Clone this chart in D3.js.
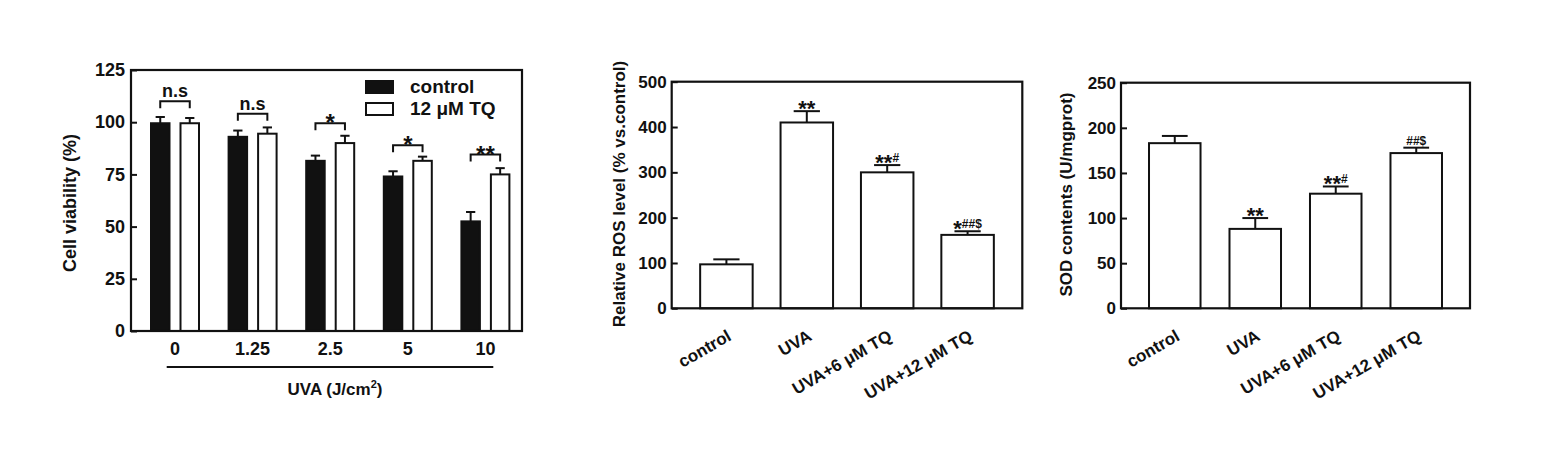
<!DOCTYPE html>
<html>
<head>
<meta charset="utf-8">
<script src="https://cdn.jsdelivr.net/npm/d3@7"></script>
<style>
  body { margin: 0; background: #fff; }
  svg text { font-family: "Liberation Sans", Arial, sans-serif; font-weight: bold; fill: #111; }
</style>
</head>
<body>
<svg id="fig" width="1548" height="464"></svg>
<script>
// ---- data: cell viability vs UVA dose
const doseLabels = ["0", "1.25", "2.5", "5", "10"];
const viabilitySeries = ["control", "12 μM TQ"];
const viabilityControl = [99.5, 93, 81.5, 74, 52.5];
const viabilityControlErr = [3, 3, 2.5, 2.5, 4.5];
const viabilityTQ = [99.5, 94.5, 90, 81.5, 75];
const viabilityTQErr = [2.5, 3, 3.5, 2, 3];
const viabilitySig = ["n.s", "n.s", "*", "*", "**"];
const viabilityBracket = [110, 104, 99.5, 89, 84.5];
const viabilityTicks = [0, 25, 50, 75, 100, 125];

// ---- data: ROS and SOD
const groupLabels = ["control", "UVA", "UVA+6 μM TQ", "UVA+12 μM TQ"];
const rosValues = [97, 410, 300, 162];
const rosErr = [11, 25, 16, 8];
const rosStars = ["", "**", "**", "*"];
const rosMarks = ["", "", "#", "##$"];
const rosTicks = [0, 100, 200, 300, 400, 500];

const sodValues = [183, 88, 127, 172];
const sodErr = [8, 12, 8, 6];
const sodStars = ["", "**", "**", ""];
const sodMarks = ["", "", "#", "##$"];
const sodTicks = [0, 50, 100, 150, 200, 250];

const svg = d3.select("#fig");
const ink = "#111";

function frame(g, left, right, top, bottom) {
    g.append("rect")
        .attr("x", left).attr("y", top)
        .attr("width", right - left).attr("height", bottom - top)
        .attr("fill", "none").attr("stroke", ink).attr("stroke-width", 2.2);
}

function yAxis(g, y, left, ticks, size, pad) {
    const ax = g.append("g")
        .attr("transform", `translate(${left},0)`)
        .call(d3.axisLeft(y).tickValues(ticks).tickSizeInner(-6).tickSizeOuter(0).tickPadding(pad));
    ax.select(".domain").remove();
    ax.selectAll(".tick line").attr("stroke", ink).attr("stroke-width", 2);
    ax.selectAll(".tick text").attr("font-size", size).attr("fill", ink);
    ax.attr("font-family", null).attr("font-size", null);
}

// Cell viability grouped bars
function drawViability() {
    const left = 131, right = 522, top = 70, bottom = 331;
    const g = svg.append("g");

    const y = d3.scaleLinear().domain([0, 125]).range([bottom, top]);
    const x0 = d3.scaleBand().domain(doseLabels).range([136.2, 524.2]);
    const x1 = d3.scaleBand().domain(viabilitySeries).range([14.8, 62.8]).paddingInner(0.373);
    const bw = x1.bandwidth();

    const rows = doseLabels.map((d, i) => ({
        dose: d,
        bars: [
            { s: viabilitySeries[0], v: viabilityControl[i], e: viabilityControlErr[i] },
            { s: viabilitySeries[1], v: viabilityTQ[i], e: viabilityTQErr[i] }
        ]
    }));

    const grp = g.selectAll("g.dose")
        .data(rows)
        .enter()
        .append("g")
        .attr("class", "dose")
        .attr("transform", d => `translate(${x0(d.dose)},0)`);

    // error bars (upper only)
    grp.selectAll("line.err")
        .data(d => d.bars)
        .enter()
        .append("line")
        .attr("x1", d => x1(d.s) + bw / 2).attr("x2", d => x1(d.s) + bw / 2)
        .attr("y1", d => y(d.v)).attr("y2", d => y(d.v + d.e))
        .attr("stroke", ink).attr("stroke-width", 2);
    grp.selectAll("line.cap")
        .data(d => d.bars)
        .enter()
        .append("line")
        .attr("x1", d => x1(d.s) + bw / 4).attr("x2", d => x1(d.s) + bw * 3 / 4)
        .attr("y1", d => y(d.v + d.e)).attr("y2", d => y(d.v + d.e))
        .attr("stroke", ink).attr("stroke-width", 2);

    grp.selectAll("rect")
        .data(d => d.bars)
        .enter()
        .append("rect")
        .attr("x", d => x1(d.s))
        .attr("y", d => y(d.v))
        .attr("width", bw)
        .attr("height", d => y(0) - y(d.v))
        .attr("fill", (d, i) => i === 0 ? ink : "#fff")
        .attr("stroke", ink).attr("stroke-width", 2);

    // significance brackets
    grp.each(function(d, i) {
        const sel = d3.select(this);
        const xa = x1(viabilitySeries[0]) + bw / 2;
        const xb = x1(viabilitySeries[1]) + bw / 2;
        const yb = y(viabilityBracket[i]);
        sel.append("path")
            .attr("d", `M${xa},${yb + 7}V${yb}H${xb}V${yb + 7}`)
            .attr("fill", "none").attr("stroke", ink).attr("stroke-width", 2);
        const lab = viabilitySig[i];
        const isStar = lab.indexOf("*") >= 0;
        sel.append("text")
            .attr("x", (xa + xb) / 2)
            .attr("y", isStar ? yb + 8 : yb - 4)
            .attr("text-anchor", "middle")
            .attr("font-size", isStar ? 24 : 18)
            .text(lab);
    });

    frame(g, left, right, top, bottom);
    yAxis(g, y, left, viabilityTicks, 18, 6);

    // x category labels
    g.selectAll("text.dose")
        .data(doseLabels)
        .enter()
        .append("text")
        .attr("class", "dose")
        .attr("x", d => x0(d) + x0.bandwidth() / 2)
        .attr("y", 355)
        .attr("text-anchor", "middle")
        .attr("font-size", 18)
        .text(d => d);

    g.append("line")
        .attr("x1", 166.7).attr("x2", 493.3)
        .attr("y1", 367).attr("y2", 367)
        .attr("stroke", ink).attr("stroke-width", 2);

    const xt = g.append("text")
        .attr("x", 335).attr("y", 395)
        .attr("text-anchor", "middle")
        .attr("font-size", 17);
    xt.append("tspan").text("UVA (J/cm");
    xt.append("tspan").attr("font-size", 11).attr("dy", -7).text("2");
    xt.append("tspan").attr("dy", 7).text(")");

    g.append("text")
        .attr("transform", "translate(76,203) rotate(-90)")
        .attr("text-anchor", "middle")
        .attr("font-size", 18)
        .text("Cell viability (%)");

    // legend
    const leg = g.append("g");
    viabilitySeries.forEach((s, i) => {
        leg.append("rect")
            .attr("x", 366).attr("y", 81 + i * 22)
            .attr("width", 27).attr("height", 12)
            .attr("fill", i === 0 ? ink : "#fff")
            .attr("stroke", ink).attr("stroke-width", 2);
        leg.append("text")
            .attr("x", 410).attr("y", 93 + i * 22)
            .attr("font-size", 19)
            .text(s);
    });
}

// single-series bar panel (ROS / SOD)
function drawSingle(opt, values, errs, stars, marks, ticks) {
    const { left, right, top, bottom, max, pi, po, title, titleX } = opt;
    const g = svg.append("g");

    const y = d3.scaleLinear().domain([0, max]).range([bottom, top]);
    const x = d3.scaleBand().domain(groupLabels).range([left, right])
        .paddingInner(pi).paddingOuter(po);
    const bw = x.bandwidth();

    const data = groupLabels.map((d, i) => ({ k: d, v: values[i], e: errs[i], s: stars[i], m: marks[i] }));

    g.selectAll("line.err")
        .data(data)
        .enter()
        .append("line")
        .attr("x1", d => x(d.k) + bw / 2).attr("x2", d => x(d.k) + bw / 2)
        .attr("y1", d => y(d.v)).attr("y2", d => y(d.v + d.e))
        .attr("stroke", ink).attr("stroke-width", 2);
    g.selectAll("line.cap")
        .data(data)
        .enter()
        .append("line")
        .attr("x1", d => x(d.k) + bw / 4).attr("x2", d => x(d.k) + bw * 3 / 4)
        .attr("y1", d => y(d.v + d.e)).attr("y2", d => y(d.v + d.e))
        .attr("stroke", ink).attr("stroke-width", 2);

    g.selectAll("rect.bar")
        .data(data)
        .enter()
        .append("rect")
        .attr("class", "bar")
        .attr("x", d => x(d.k))
        .attr("y", d => y(d.v))
        .attr("width", bw)
        .attr("height", d => y(0) - y(d.v))
        .attr("fill", "#fff")
        .attr("stroke", ink).attr("stroke-width", 2);

    // significance marks above error caps
    data.filter(d => d.s || d.m).forEach(d => {
        const t = g.append("text")
            .attr("x", x(d.k) + bw / 2)
            .attr("y", y(d.v + d.e) - 3)
            .attr("text-anchor", "middle");
        if (d.s) t.append("tspan").attr("font-size", 22).attr("dy", 8).text(d.s);
        if (d.m) t.append("tspan").attr("font-size", 12).attr("dy", d.s ? -8 : 0).text(d.m);
    });

    frame(g, left, right, top, bottom);
    yAxis(g, y, left, ticks, 17, 5);

    g.selectAll("text.cat")
        .data(groupLabels)
        .enter()
        .append("text")
        .attr("class", "cat")
        .attr("text-anchor", "end")
        .attr("font-size", 17)
        .attr("transform", d => `translate(${x(d) + bw / 2 + 6},${bottom + 31}) rotate(-30)`)
        .text(d => d);

    g.append("text")
        .attr("transform", `translate(${titleX},${(top + bottom) / 2 - 1}) rotate(-90)`)
        .attr("text-anchor", "middle")
        .attr("font-size", 17)
        .text(title);
}

drawViability();
drawSingle({ left: 671.7, right: 1022.3, top: 81.7, bottom: 308.3, max: 500, pi: 0.347, po: 0.354,
             title: "Relative ROS level (% vs.control)", titleX: 625 },
    rosValues, rosErr, rosStars, rosMarks, rosTicks);
drawSingle({ left: 1121, right: 1470, top: 82.7, bottom: 308.3, max: 250, pi: 0.36, po: 0.348,
             title: "SOD contents (U/mgprot)", titleX: 1072 },
    sodValues, sodErr, sodStars, sodMarks, sodTicks);
</script>
</body>
</html>
